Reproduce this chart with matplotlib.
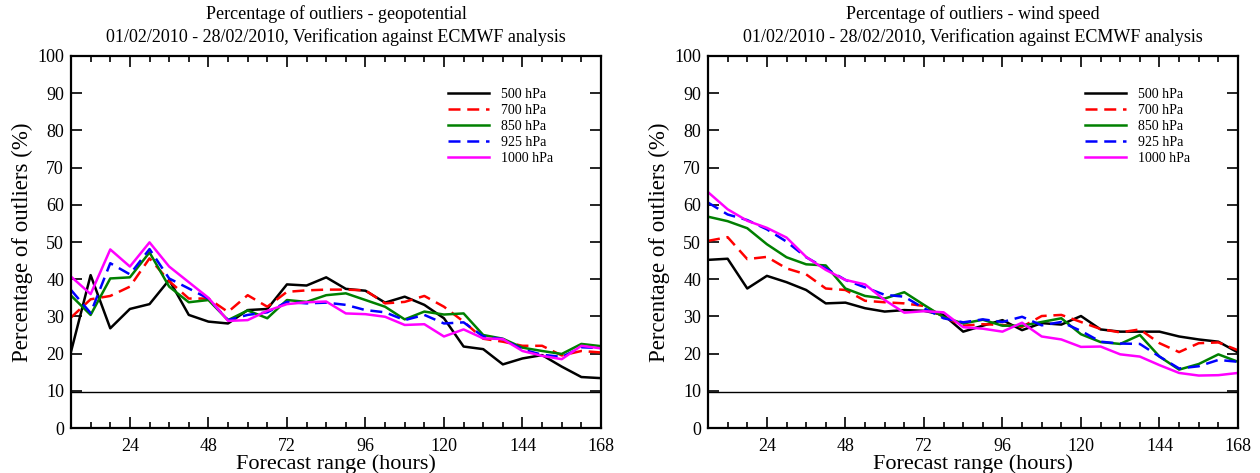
import matplotlib
matplotlib.use("Agg")
import matplotlib.pyplot as plt
from matplotlib.ticker import MultipleLocator

plt.rcParams['font.family'] = ['Liberation Serif', 'DejaVu Serif']

hours = [6, 12, 18, 24, 30, 36, 42, 48, 54, 60, 66, 72, 78, 84,
         90, 96, 102, 108, 114, 120, 126, 132, 138, 144, 150, 156, 162, 168]
levels = ['500 hPa', '700 hPa', '850 hPa', '925 hPa', '1000 hPa']

# geopotential outliers (%)
z500 = [20.5, 41.1, 26.8, 32.0, 33.3, 39.8, 30.4, 28.6, 28.1, 31.7, 32.0, 38.6, 38.3, 40.5,
        37.4, 36.9, 33.7, 35.3, 33.1, 29.5, 21.9, 21.2, 17.1, 18.7, 19.6, 16.5, 13.7, 13.4]
z700 = [29.7, 34.6, 35.5, 38.0, 45.6, 39.5, 34.8, 34.8, 31.2, 35.7, 32.6, 36.6, 37.0, 37.2,
        37.2, 37.0, 33.5, 33.9, 35.5, 32.6, 28.6, 24.0, 23.2, 22.1, 22.1, 19.5, 20.7, 20.3]
z850 = [35.6, 30.4, 40.2, 40.5, 47.2, 38.0, 33.8, 34.4, 29.0, 31.6, 29.5, 34.4, 33.9, 35.7,
        36.2, 34.4, 32.6, 29.2, 31.3, 30.5, 30.8, 25.0, 24.0, 21.6, 20.7, 19.9, 22.6, 22.0]
z925 = [37.1, 30.9, 44.3, 41.3, 48.1, 40.2, 37.5, 34.8, 29.0, 30.4, 31.1, 33.9, 33.5, 33.7,
        33.1, 31.7, 31.1, 29.0, 30.4, 28.1, 28.4, 24.6, 23.9, 21.1, 19.7, 19.1, 21.7, 21.5]
z1000 = [40.7, 36.0, 48.0, 43.4, 49.9, 43.4, 39.2, 35.0, 28.8, 29.0, 31.5, 33.3, 33.8, 34.0,
         30.8, 30.6, 29.9, 27.7, 27.9, 24.6, 26.5, 24.1, 23.9, 20.7, 19.4, 18.5, 22.1, 21.4]

# wind speed outliers (%)
w500 = [45.2, 45.5, 37.5, 40.9, 39.2, 37.1, 33.5, 33.7, 32.2, 31.3, 31.7, 31.5, 30.4, 25.9,
        27.5, 29.0, 26.3, 28.2, 27.8, 30.1, 26.5, 25.9, 25.9, 25.9, 24.6, 23.8, 23.2, 20.3]
w700 = [50.3, 51.3, 45.4, 46.0, 42.9, 41.3, 37.5, 37.1, 34.2, 33.8, 33.5, 32.8, 29.9, 27.5,
        27.9, 27.7, 27.2, 30.1, 30.4, 28.5, 26.6, 25.7, 26.5, 22.8, 20.4, 22.8, 23.0, 20.9]
w850 = [56.8, 55.6, 53.7, 49.4, 45.9, 44.0, 43.7, 37.5, 35.5, 34.8, 36.5, 33.1, 29.8, 28.1,
        29.1, 27.5, 27.5, 28.5, 29.5, 25.2, 23.1, 22.6, 25.0, 19.2, 15.7, 17.2, 19.8, 17.8]
w925 = [60.6, 57.4, 55.9, 53.4, 50.1, 45.9, 42.9, 39.8, 37.8, 35.8, 35.3, 32.2, 29.5, 28.4,
        29.2, 28.5, 29.9, 27.6, 28.5, 26.1, 23.2, 22.7, 22.6, 19.2, 16.0, 16.6, 18.3, 17.8]
w1000 = [63.4, 58.8, 55.7, 53.8, 51.2, 46.0, 42.5, 39.8, 38.6, 34.4, 31.0, 31.4, 31.1, 27.1,
         26.7, 25.9, 28.3, 24.6, 23.8, 21.8, 21.9, 19.8, 19.2, 16.9, 14.8, 14.1, 14.2, 14.8]

threshold = 9.6
period = '01/02/2010 - 28/02/2010, Verification against ECMWF analysis'

colors = ['black', '#ff0000', '#008000', '#0000ff', '#ff00ff']
dash = (0, (4.8, 2.7))
styles = ['-', dash, '-', dash, '-']


def draw(ax, series, title):
    for vals, lab, c, ls in zip(series, levels, colors, styles):
        ax.plot(hours, vals, color=c, ls=ls, lw=1.8, label=lab)
    ax.axhline(threshold, color='black', lw=1.0)
    ax.set_xlim(hours[0], hours[-1])
    ax.set_ylim(0, 100)
    ax.xaxis.set_major_locator(MultipleLocator(24))
    ax.xaxis.set_minor_locator(MultipleLocator(6))
    ax.yaxis.set_major_locator(MultipleLocator(10))
    ax.tick_params(which='both', direction='in', top=True, right=True,
                   labelsize=13, width=1.2)
    ax.tick_params(which='major', length=8)
    ax.tick_params(which='minor', length=4)
    ax.tick_params(axis='x', pad=7)
    ax.tick_params(axis='y', pad=5)
    for sp in ax.spines.values():
        sp.set_linewidth(1.6)
    ax.set_xlabel('Forecast range (hours)', fontsize=16, labelpad=0)
    ax.set_ylabel('Percentage of outliers (%)', fontsize=16.5, labelpad=3)
    ax.set_title(title + '\n' + period, fontsize=13, linespacing=1.35, pad=10)
    ax.legend(loc='upper left', bbox_to_anchor=(0.711, 0.915), frameon=False,
              fontsize=10, handlelength=3.0, handletextpad=0.86,
              labelspacing=0.22, borderpad=0, borderaxespad=0)


fig = plt.figure(figsize=(12.6, 4.73), dpi=100)
ax1 = fig.add_axes([71 / 1260, 1 - 428 / 473, 530 / 1260, 372 / 473])
ax2 = fig.add_axes([708 / 1260, 1 - 428 / 473, 530 / 1260, 372 / 473])

draw(ax1, [z500, z700, z850, z925, z1000], 'Percentage of outliers - geopotential')
draw(ax2, [w500, w700, w850, w925, w1000], 'Percentage of outliers - wind speed')

fig.savefig('out.png', dpi=100)
